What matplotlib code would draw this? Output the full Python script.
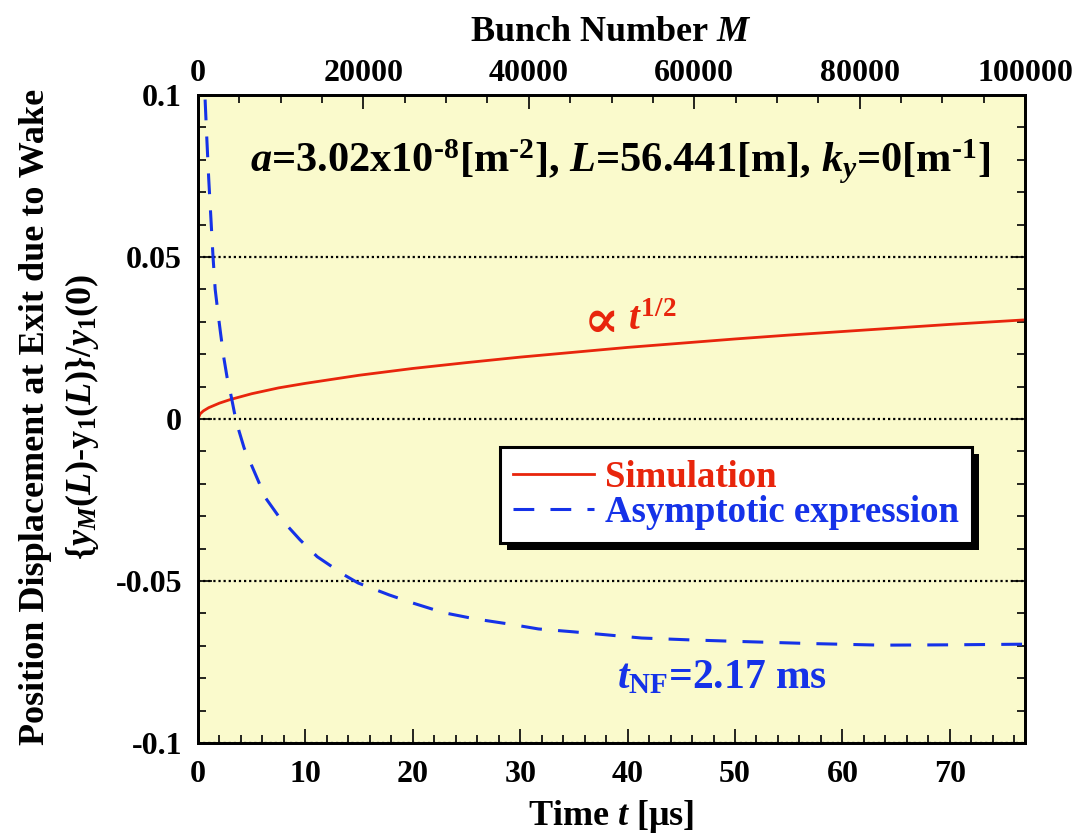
import matplotlib
matplotlib.use("Agg")
import matplotlib.pyplot as plt
from matplotlib.patches import Rectangle
from matplotlib.ticker import MultipleLocator, FixedLocator, FixedFormatter
from matplotlib.transforms import IdentityTransform

# ---------------- data ----------------
sim_t = [0, 0.2, 0.5, 1, 2, 3, 5, 7.5, 10, 15, 20, 25, 30, 35, 40, 45, 50,
         55, 60, 65, 70, 77]
sim_y = [0, 0.0016, 0.0025, 0.0035, 0.0049, 0.0060, 0.0078, 0.0096, 0.0110,
         0.0135, 0.0156, 0.0174, 0.0191, 0.0206, 0.0221, 0.0234, 0.0247,
         0.0259, 0.0270, 0.0281, 0.0292, 0.0306]

asy_t = [0.55, 0.65, 0.8, 1.0, 1.2, 1.4, 1.6, 1.85, 2.1, 2.4, 2.7, 3.0, 3.4,
         3.8, 4.3, 5.3, 6.3, 7.5, 9.5, 11.1, 13.6, 14.9, 17.8, 20, 22.9,
         25.8, 29, 31.7, 35, 41.3, 46, 50.8, 57, 63.6, 70, 77]
asy_y = [0.110, 0.0995, 0.088, 0.074, 0.062, 0.050, 0.040, 0.033, 0.0265,
         0.019, 0.013, 0.0085, 0.0018, -0.0035, -0.0090, -0.0167, -0.0244,
         -0.0300, -0.0373, -0.0425, -0.0481, -0.0506, -0.0543, -0.0568,
         -0.0598, -0.0617, -0.0633, -0.0648, -0.0657, -0.0676, -0.0682,
         -0.0687, -0.0693, -0.0698, -0.0697, -0.0695]

bottom_ticks = [0, 10, 20, 30, 40, 50, 60, 70]
top_ticks = [0, 20000, 40000, 60000, 80000, 100000]
y_ticks = [-0.1, -0.05, 0, 0.05, 0.1]
y_tick_labels = ["-0.1", "-0.05", "0", "0.05", "0.1"]

t_max = 77
m_max = 100000

RED = "#E8250C"
BLUE = "#1532E8"
BG = "#FAFACC"

plt.rcParams.update({
    "font.family": "Liberation Serif",
    "font.weight": "bold",
    "axes.labelweight": "bold",
    "mathtext.fontset": "custom",
    "mathtext.rm": "Liberation Serif:bold",
    "mathtext.bf": "Liberation Serif:bold",
    "mathtext.it": "Liberation Serif:italic:bold",
    "axes.linewidth": 2.0,
})

W, H = 1077, 835
fig = plt.figure(figsize=(W / 100, H / 100), dpi=100)
L, R, T, B = 198, 1025, 95, 743
ax = fig.add_axes([L / W, 1 - B / H, (R - L) / W, (B - T) / H])
ax.set_facecolor(BG)

ax.plot(sim_t, sim_y, color=RED, lw=2.0, label="Simulation", zorder=3)
ax.plot(asy_t, asy_y, color=BLUE, lw=2.2, dashes=(6.8, 5.3),
        label="Asymptotic expression", zorder=3)

ax.set_xlim(0, t_max)
ax.set_ylim(-0.1, 0.1)
ax.xaxis.set_major_locator(FixedLocator(bottom_ticks))
ax.xaxis.set_minor_locator(MultipleLocator(2))
ax.yaxis.set_major_locator(FixedLocator(y_ticks))
ax.yaxis.set_major_formatter(FixedFormatter(y_tick_labels))
ax.yaxis.set_minor_locator(MultipleLocator(0.01))
ax.tick_params(axis="both", which="both", direction="in", labelsize=23,
               width=1.2)
ax.tick_params(axis="x", which="both", top=False, bottom=True, pad=12)
ax.tick_params(axis="y", which="both", left=True, right=True, pad=11.5)
ax.tick_params(which="major", length=10)
ax.tick_params(which="minor", length=5.5)

for y in y_ticks:
    ax.axhline(y, color="black", lw=1.6, ls=(0, (1, 1.3)), zorder=1)

ax.set_xlabel("Time $t$ [μs]", fontsize=26, labelpad=7)

ax2 = ax.twiny()
ax2.set_xlim(0, m_max)
ax2.xaxis.set_major_locator(FixedLocator(top_ticks))
ax2.xaxis.set_minor_locator(MultipleLocator(5000))
ax2.tick_params(axis="x", which="both", direction="in", labelsize=23,
                width=1.2, pad=5)
ax2.tick_params(which="major", length=10)
ax2.tick_params(which="minor", length=5.5)
ax2.set_xlabel("Bunch Number $M$", fontsize=26, labelpad=13)

# y-label (two lines)
yc = 1 - 417 / H
fig.text(36 / W, yc, "Position Displacement at Exit due to Wake",
         rotation=90, ha="center", va="center", fontsize=26)
fig.text(82 / W, yc, r"{$y_M$($L$)-y$_\mathrm{1}$($L$)}/$y_1$(0)",
         rotation=90, ha="center", va="center", fontsize=26)

# annotations
ax.text(39.3, 0.0795,
        r"$a$=3.02x10$^{\text{-8}}$[m$^{\text{-2}}$], $L$=56.441[m], "
        r"$k_y$=0[m$^{\text{-1}}$]",
        ha="center", va="center", fontsize=30.5)
ax.text(35.9, 0.0297, "∝", color=RED, family="DejaVu Serif",
        ha="left", va="center", fontsize=38)
ax.text(40.0, 0.0305, r"$t^{\mathrm{1/2}}$", color=RED,
        ha="left", va="center", fontsize=28)
ax.text(48.8, -0.0800, r"$t_{\mathrm{NF}}$=2.17 ms", color=BLUE,
        ha="center", va="center", fontsize=30)

leg = ax.legend(loc="upper left", bbox_to_anchor=(0.365, 0.457),
                borderaxespad=0, fontsize=26.5, labelcolor="linecolor",
                frameon=True, fancybox=False, framealpha=1,
                edgecolor="black", handlelength=2.2, handletextpad=0.3,
                labelspacing=0.0, borderpad=0.35)
leg.get_frame().set_linewidth(2.2)
leg.set_zorder(10)

fig.canvas.draw()
bb = leg.get_window_extent()
off = 7
shadow = Rectangle((bb.x0 + off, bb.y0 - off), bb.width, bb.height,
                   transform=IdentityTransform(), facecolor="black",
                   edgecolor="none", zorder=9, clip_on=False)
ax.add_artist(shadow)

fig.savefig("out.png", dpi=100, facecolor="white")
